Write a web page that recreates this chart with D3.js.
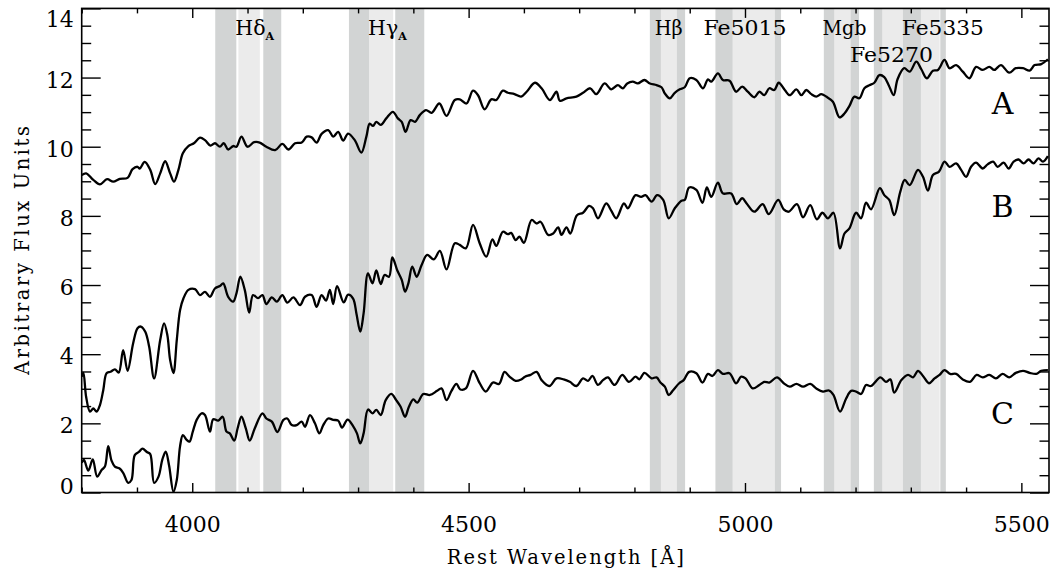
<!DOCTYPE html>
<html><head><meta charset="utf-8">
<script src="https://cdn.jsdelivr.net/npm/d3@7"></script>
<style>
body{margin:0;background:#fff;}
svg{display:block;}
text{font-family:"DejaVu Serif",serif;fill:#000;}
</style></head><body>
<svg id="c" width="1050" height="569"></svg>
<script>
// ---- data ----
const waveA = [3800,3808,3821,3833,3846,3857,3869,3883,3892,3901,3905,3914,3924,3933,3942,3951,3960,3967,3975,3983,3993,4003,4014,4023,4033,4041,4050,4057,4065,4074,4080,4089,4100,4112,4122,4134,4150,4163,4174,4186,4198,4207,4216,4225,4234,4246,4255,4264,4273,4282,4294,4306,4315,4321,4327,4333,4341,4351,4363,4372,4379,4386,4395,4403,4412,4423,4433,4447,4460,4475,4484,4496,4508,4517,4529,4541,4550,4562,4571,4583,4595,4605,4620,4632,4647,4659,4665,4677,4695,4707,4720,4731,4746,4758,4770,4779,4787,4797,4806,4818,4828,4840,4849,4855,4864,4873,4882,4891,4900,4912,4924,4933,4939,4951,4960,4972,4984,4995,5005,5017,5026,5035,5044,5053,5061,5072,5081,5093,5102,5111,5120,5129,5138,5147,5159,5171,5180,5189,5198,5207,5216,5225,5234,5243,5252,5260,5269,5276,5288,5298,5310,5319,5329,5340,5349,5361,5370,5382,5394,5406,5418,5430,5442,5451,5463,5478,5490,5503,5515,5524,5536,5548];
const fluxA = [9.18,9.23,9.04,8.91,9.06,8.99,9.07,9.10,9.35,9.42,9.37,9.56,9.33,8.92,9.23,9.58,9.23,8.99,9.33,9.81,10.02,10.10,10.26,10.19,10.03,10.10,10.00,10.10,9.92,10.02,10.00,10.29,10.00,10.13,10.12,10.00,9.90,10.08,9.92,10.10,10.12,10.29,10.27,10.12,10.37,10.48,10.29,10.43,10.18,10.38,10.19,9.83,10.29,10.67,10.60,10.72,10.63,10.82,11.01,10.82,10.72,10.43,10.77,10.72,10.92,11.06,10.98,11.25,10.89,11.35,11.37,11.25,11.62,11.49,11.08,11.37,11.35,11.62,11.56,11.52,11.45,11.59,11.85,11.69,11.35,11.59,11.33,11.40,11.45,11.56,11.69,11.52,11.83,11.66,11.78,11.69,11.83,11.88,11.83,11.93,11.83,11.78,11.72,11.54,11.40,11.56,11.66,11.72,11.98,11.93,11.69,11.95,11.88,12.12,11.93,11.91,11.59,11.74,11.59,11.43,11.59,11.49,11.69,11.64,11.85,11.64,11.49,11.66,11.49,11.64,11.52,11.45,11.52,11.45,11.30,10.85,10.96,11.18,11.45,11.40,11.69,11.78,11.85,12.07,12.01,11.78,11.49,11.95,12.27,12.17,12.46,12.24,11.98,12.20,12.22,12.51,12.27,12.36,12.17,11.98,12.31,12.22,12.31,12.22,12.36,12.14,12.27,12.27,12.20,12.36,12.39,12.53];

const waveB = [3800,3803,3808,3815,3821,3827,3833,3839,3845,3852,3860,3867,3875,3883,3893,3901,3907,3915,3922,3931,3942,3949,3955,3960,3966,3972,3978,3984,3993,4005,4014,4023,4032,4041,4050,4056,4065,4074,4080,4087,4095,4103,4110,4119,4127,4134,4144,4153,4163,4172,4183,4195,4204,4216,4225,4234,4242,4249,4255,4262,4274,4282,4291,4297,4304,4310,4318,4326,4333,4341,4348,4356,4362,4371,4379,4385,4391,4398,4406,4415,4425,4437,4448,4460,4475,4484,4495,4508,4520,4532,4543,4550,4562,4571,4577,4585,4592,4600,4614,4623,4630,4644,4653,4662,4668,4677,4684,4696,4707,4718,4725,4734,4749,4758,4767,4781,4788,4802,4812,4820,4831,4841,4852,4862,4873,4885,4891,4899,4912,4923,4931,4939,4951,4960,4975,4985,4995,5003,5017,5032,5043,5060,5070,5079,5094,5105,5118,5130,5140,5150,5160,5172,5180,5189,5201,5210,5219,5228,5244,5252,5261,5270,5281,5289,5298,5313,5322,5331,5340,5351,5361,5370,5382,5391,5400,5409,5418,5430,5439,5449,5457,5468,5477,5486,5495,5504,5513,5522,5531,5539,5548];
const fluxB = [3.35,3.46,2.77,2.34,2.43,2.34,2.53,2.96,3.45,3.49,3.56,3.47,4.12,3.52,4.31,4.75,4.80,4.65,4.22,3.30,4.41,4.89,4.55,3.83,3.45,4.41,5.28,5.61,5.86,5.88,5.71,5.80,5.66,5.90,5.97,6.05,5.66,5.52,5.76,6.24,5.86,5.20,5.71,5.62,5.71,5.45,5.64,5.52,5.71,5.49,5.64,5.42,5.66,5.71,5.37,5.71,5.55,5.86,5.45,5.97,5.50,5.72,5.61,5.18,4.65,5.18,6.34,6.05,6.42,6.03,6.29,6.24,6.80,6.42,6.15,5.81,6.05,6.53,6.24,6.58,6.87,6.74,6.99,6.45,7.21,7.16,7.06,7.74,7.21,6.82,7.32,7.13,7.54,7.47,7.51,7.30,7.40,7.22,7.88,7.78,7.83,7.45,7.49,7.67,7.45,7.67,7.49,8.02,8.09,8.29,8.22,7.93,8.36,8.15,7.93,8.36,8.22,8.60,8.55,8.60,8.41,8.60,8.46,7.93,8.22,8.44,8.46,8.82,8.75,8.38,8.82,8.55,8.96,8.65,8.65,8.34,8.51,8.36,8.12,8.34,8.05,8.46,8.19,8.12,8.34,7.96,8.31,7.90,8.09,7.93,8.09,7.06,7.49,7.64,8.09,7.93,8.38,8.19,8.80,8.60,8.46,8.02,8.70,9.04,8.89,9.33,9.13,8.73,9.18,9.28,9.57,9.42,9.52,9.33,9.13,9.42,9.54,9.37,9.49,9.57,9.42,9.54,9.37,9.57,9.63,9.52,9.63,9.52,9.66,9.57,9.73];

const waveC = [3800,3804,3812,3820,3828,3836,3842,3848,3854,3860,3868,3875,3884,3890,3896,3904,3910,3918,3924,3931,3939,3946,3952,3958,3966,3972,3978,3983,3990,3995,4001,4008,4017,4023,4032,4038,4047,4055,4062,4068,4076,4082,4089,4097,4104,4113,4127,4134,4144,4154,4165,4172,4180,4189,4198,4204,4213,4222,4230,4237,4246,4255,4264,4271,4281,4291,4298,4304,4310,4318,4326,4333,4341,4350,4360,4369,4377,4385,4392,4400,4407,4418,4430,4443,4451,4460,4469,4478,4485,4495,4508,4520,4531,4544,4555,4565,4574,4585,4595,4602,4612,4623,4632,4646,4659,4672,4683,4695,4707,4716,4724,4734,4743,4752,4764,4778,4790,4802,4809,4818,4831,4840,4847,4855,4862,4870,4881,4889,4899,4912,4923,4933,4941,4951,4960,4972,4984,4993,5001,5014,5026,5035,5044,5058,5070,5081,5093,5105,5118,5129,5141,5152,5160,5172,5183,5192,5201,5210,5219,5228,5245,5255,5263,5270,5283,5295,5304,5313,5322,5333,5343,5352,5361,5371,5382,5394,5407,5419,5430,5442,5454,5466,5478,5490,5503,5515,5527,5536,5548];
const fluxC = [0.86,0.94,0.63,0.96,0.46,0.65,0.75,1.34,0.92,0.75,0.70,0.57,0.28,0.36,1.08,1.18,1.27,1.17,1.11,0.28,0.46,0.96,1.18,0.79,0.02,0.36,1.34,1.66,1.52,1.47,1.76,2.10,2.29,2.24,1.76,2.12,2.08,2.19,1.76,1.71,1.50,1.85,2.19,1.85,1.50,1.85,2.29,2.14,2.05,1.75,2.10,2.14,1.95,1.95,2.05,1.90,2.24,2.00,1.71,1.95,2.14,2.10,2.08,1.88,2.11,1.92,1.71,1.42,1.71,2.40,2.29,2.39,2.24,2.67,2.85,2.67,2.48,2.19,2.48,2.69,2.60,2.85,2.82,2.94,3.01,2.67,2.94,3.14,2.98,3.01,3.52,3.16,2.92,3.18,3.14,3.49,3.35,3.23,3.27,3.35,3.40,3.49,3.25,3.08,3.30,3.27,3.20,3.08,3.30,3.23,3.37,3.11,3.25,3.33,3.11,3.40,3.20,3.35,3.27,3.46,3.30,3.33,3.18,3.06,2.82,2.96,3.16,3.25,3.49,3.45,3.18,3.43,3.37,3.54,3.43,3.45,3.16,3.35,3.30,3.01,3.11,3.20,3.18,3.33,3.16,3.06,3.14,3.06,3.14,3.01,2.92,2.95,2.82,2.34,2.72,2.94,2.92,2.85,3.11,3.08,3.33,3.20,3.27,2.89,3.25,3.40,3.33,3.52,3.37,3.16,3.30,3.40,3.54,3.43,3.43,3.27,3.20,3.40,3.33,3.40,3.30,3.43,3.33,3.46,3.52,3.46,3.43,3.52,3.54];

const seriesNames = ["A","B","C"];

// Lick index bandpasses (Angstrom)
const indexNames   = ["Hδ","Hγ","Hβ","Fe5015","Mgb","Fe5270","Fe5335"];
const indexSubs    = ["A","A","","","","",""];
const blueBands    = [[4041.60,4079.75],[4283.50,4319.75],[4827.875,4847.875],[4946.50,4977.75],[5142.625,5161.375],[5233.15,5248.15],[5304.625,5315.875]];
const centralBands = [[4083.50,4122.25],[4319.75,4363.50],[4847.875,4876.625],[4977.75,5054.00],[5160.125,5192.625],[5245.65,5285.65],[5312.125,5352.125]];
const redBands     = [[4128.50,4161.00],[4367.25,4419.75],[4876.625,4891.625],[5054.00,5065.25],[5191.375,5206.375],[5285.65,5318.15],[5353.375,5363.375]];
const labelWave    = [4113,4353,4862,5000,5180,5265,5358];
const labelRow     = [0,0,0,0,0,1,0];

const xMajor = [4000,4500,5000,5500];
const yMajor = [0,2,4,6,8,10,12,14];

// ---- layout ----
const L=81.7, R=1049, T=8.4, B=492.5;
const x=d3.scaleLinear().domain([3800,5550]).range([L,R]);
const y=d3.scaleLinear().domain([0,14]).range([B,T]);
const svg=d3.select("#c");

svg.append("defs").append("clipPath").attr("id","clip")
  .append("rect").attr("x",L).attr("y",T).attr("width",R-L).attr("height",B-T);

// bands: central (light) first, then continua (dark)
const gb=svg.append("g");
gb.selectAll("rect.c").data(centralBands).join("rect").attr("class","c")
  .attr("x",d=>x(d[0])).attr("width",d=>x(d[1])-x(d[0]))
  .attr("y",T).attr("height",B-T).attr("fill","#ebebeb");
gb.selectAll("rect.k").data(blueBands.concat(redBands)).join("rect").attr("class","k")
  .attr("x",d=>x(d[0])).attr("width",d=>x(d[1])-x(d[0]))
  .attr("y",T).attr("height",B-T).attr("fill","#d2d4d4");

// band labels
const labelLen = [0,0,28,83,44,83,82];
const gl=svg.append("g");
indexNames.forEach((n,i)=>{
  const t=gl.append("text").attr("x",x(labelWave[i])).attr("y",labelRow[i]?61.5:35)
    .attr("text-anchor","middle").style("font-size","20.5px");
  if(labelLen[i]) t.attr("textLength",labelLen[i]).attr("lengthAdjust","spacingAndGlyphs");
  t.append("tspan").text(n);
  if(indexSubs[i]) t.append("tspan").attr("dy",5).style("font-size","11px").style("font-weight","bold").text(indexSubs[i]);
});

// spectra
const line=d3.line().x(d=>x(d[0])).y(d=>y(d[1])).curve(d3.curveCatmullRom.alpha(0.5));
const gs=svg.append("g").attr("clip-path","url(#clip)");
[[waveA,fluxA],[waveB,fluxB],[waveC,fluxC]].forEach(([w,f])=>{
  gs.append("path").datum(w.map((v,i)=>[v,f[i]]))
    .attr("d",line).attr("fill","none").attr("stroke","#000")
    .attr("stroke-width",2.3).attr("stroke-linejoin","round");
});

// series letters
const letterFlux=[10.95,7.97,1.98];
seriesNames.forEach((s,i)=>{
  svg.append("text").attr("x",x(5466)).attr("y",y(letterFlux[i]))
    .attr("text-anchor","middle").style("font-size","30px").text(s);
});

// axes
const xMinor=d3.range(3800,5551,100).filter(v=>!xMajor.includes(v));
const yMinor=d3.range(0,14.01,0.5).filter(v=>!yMajor.includes(v));
function clean(g){g.select(".domain").remove();g.selectAll("line").attr("stroke","#000").attr("stroke-width",1.4);}

svg.append("g").attr("transform",`translate(0,${B})`)
  .call(d3.axisBottom(x).tickValues(xMinor).tickSize(-5).tickFormat("")).call(clean);
const gxb=svg.append("g").attr("transform",`translate(0,${B})`)
  .call(d3.axisBottom(x).tickValues(xMajor).tickSize(-9.5).tickFormat(d3.format("d"))).call(clean);
gxb.selectAll("text").attr("y",24).attr("dy","0.71em").style("font-size","22px").style("font-family","DejaVu Serif");

svg.append("g").attr("transform",`translate(0,${T})`)
  .call(d3.axisTop(x).tickValues(xMinor).tickSize(-5).tickFormat("")).call(clean);
svg.append("g").attr("transform",`translate(0,${T})`)
  .call(d3.axisTop(x).tickValues(xMajor).tickSize(-9.5).tickFormat("")).call(clean);

svg.append("g").attr("transform",`translate(${L},0)`)
  .call(d3.axisLeft(y).tickValues(yMinor).tickSize(-9.5).tickFormat("")).call(clean);
const gyl=svg.append("g").attr("transform",`translate(${L},0)`)
  .call(d3.axisLeft(y).tickValues(yMajor).tickSize(-19).tickFormat(d3.format("d"))).call(clean);
gyl.selectAll("text").attr("x",-8).attr("dy","0.32em")
  .attr("y",d=>d===14?11:(d===0?-6:2.5))
  .style("font-size","22px").style("font-family","DejaVu Serif");

svg.append("g").attr("transform",`translate(${R},0)`)
  .call(d3.axisRight(y).tickValues(yMinor).tickSize(-9.5).tickFormat("")).call(clean);
svg.append("g").attr("transform",`translate(${R},0)`)
  .call(d3.axisRight(y).tickValues(yMajor).tickSize(-19).tickFormat("")).call(clean);

// frame
svg.append("rect").attr("x",L).attr("y",T).attr("width",R-L).attr("height",B-T)
  .attr("fill","none").attr("stroke","#000").attr("stroke-width",1.6);

// titles
svg.append("text").attr("x",(L+R)/2).attr("y",564).attr("text-anchor","middle")
  .attr("textLength",237).attr("lengthAdjust","spacing")
  .style("font-size","19.5px").text("Rest Wavelength [Å]");
svg.append("text").attr("transform",`translate(29,${(T+B)/2}) rotate(-90)`).attr("text-anchor","middle")
  .attr("textLength",249).attr("lengthAdjust","spacing")
  .style("font-size","19.5px").text("Arbitrary Flux Units");
</script>
</body></html>
